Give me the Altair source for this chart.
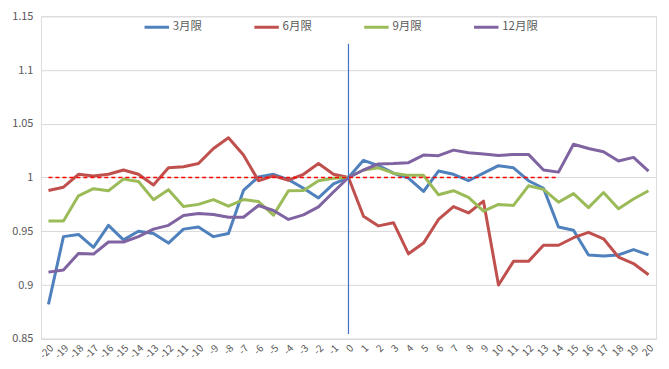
import altair as alt
import pandas as pd

cats = list(range(-20, 21))

s3 = [0.882, 0.945, 0.947, 0.935, 0.9555, 0.942, 0.950, 0.948, 0.939, 0.952,
      0.954, 0.945, 0.948, 0.988, 1.0006, 1.003, 0.998, 0.990, 0.981, 0.994,
      1.0,
      1.016, 1.011, 1.004, 0.9994, 0.987, 1.006, 1.003, 0.997, 1.004, 1.011,
      1.009, 0.997, 0.990, 0.954, 0.951, 0.928, 0.927, 0.928, 0.933, 0.928]
s6 = [0.988, 0.991, 1.003, 1.0015, 1.003, 1.007, 1.003, 0.993, 1.009, 1.010,
      1.013, 1.027, 1.037, 1.021, 0.997, 1.0015, 0.9975, 1.003, 1.013, 1.003,
      1.0,
      0.964, 0.955, 0.958, 0.929, 0.939, 0.961, 0.973, 0.967, 0.978, 0.900,
      0.922, 0.922, 0.937, 0.937, 0.944, 0.949, 0.943, 0.926, 0.920, 0.9095]
s9 = [0.9595, 0.9595, 0.983, 0.9896, 0.9877, 0.9985, 0.9963, 0.9794, 0.9887, 0.973,
      0.975, 0.9795, 0.9733, 0.9795, 0.9776, 0.965, 0.9877, 0.988, 0.997, 0.9994,
      1.0,
      1.007, 1.009, 1.004, 1.002, 1.002, 0.984, 0.9877, 0.9816, 0.9687, 0.975,
      0.974, 0.9923, 0.989, 0.977, 0.985, 0.972, 0.986, 0.971, 0.980, 0.9877]
s12 = [0.912, 0.914, 0.9294, 0.9288, 0.940, 0.940, 0.945, 0.952, 0.9555, 0.9647,
       0.9666, 0.9656, 0.963, 0.963, 0.974, 0.9693, 0.961, 0.9653, 0.9727, 0.9865,
       1.0,
       1.007, 1.0126, 1.013, 1.0138, 1.0209, 1.0203, 1.0255, 1.023, 1.0218, 1.0205,
       1.0215, 1.0215, 1.007, 1.005, 1.031, 1.027, 1.024, 1.0153, 1.0187, 1.006]

names = ["3月限", "6月限", "9月限", "12月限"]
colors = ["#4F81BD", "#C0504D", "#9BBB59", "#8064A2"]

ref_cats = list(range(-20, 15))
ref_vals = [1.0] * len(ref_cats)

vline_x = [0]
vline_top = [1.1245]
vline_bottom = [0.8545]

rows = []
for si, (nm, vals) in enumerate(zip(names, [s3, s6, s9, s12])):
    for c, v in zip(cats, vals):
        rows.append({"x": c, "value": v, "series": nm, "ord": si})
df = pd.DataFrame(rows)
ref_df = pd.DataFrame({"x": ref_cats, "value": ref_vals})
vl_df = pd.DataFrame({"x": vline_x, "top": vline_top, "bottom": vline_bottom})

FONT = "Noto Sans CJK JP"
GRAY = "#595959"
GRID = "#D9D9D9"

xenc = alt.X("x:O", scale=alt.Scale(domain=cats),
             axis=alt.Axis(title=None, labelAngle=-45, labelFontSize=10,
                           labelColor=GRAY, labelFont=FONT, ticks=False,
                           domainColor=GRID, grid=False, labelPadding=4))
yscale = alt.Scale(domain=[0.85, 1.15], nice=False, zero=False)

lines = alt.Chart(df).mark_line(strokeWidth=3, strokeJoin="round").encode(
    x=xenc,
    y=alt.Y("value:Q", scale=yscale,
            axis=alt.Axis(title=None, values=[0.85, 0.9, 0.95, 1.0, 1.05, 1.1, 1.15],
                          format="~g", labelFontSize=11, labelColor=GRAY,
                          labelFont=FONT, ticks=False, domain=False,
                          gridColor=GRID, labelPadding=8)),
    color=alt.Color("series:N", scale=alt.Scale(domain=names, range=colors),
                    legend=alt.Legend(title=None, orient="none", direction="horizontal",
                                      legendX=102, legendY=-3, symbolType="stroke",
                                      symbolSize=600, symbolStrokeWidth=3,
                                      labelFontSize=11.5, labelColor=GRAY,
                                      labelFont=FONT, labelOffset=2,
                                      columnPadding=45, padding=0)),
    order=alt.Order("ord:Q"),
)

ref = alt.Chart(ref_df).mark_line(color="#FF0000", strokeWidth=1.5,
                                  strokeDash=[4, 3]).encode(
    x=alt.X("x:O", scale=alt.Scale(domain=cats)),
    y=alt.Y("value:Q", scale=yscale),
)

vline = alt.Chart(vl_df).mark_rule(color="#4472C4", strokeWidth=1.2).encode(
    x=alt.X("x:O", scale=alt.Scale(domain=cats)),
    y=alt.Y("top:Q", scale=yscale),
    y2="bottom:Q",
)

chart = alt.layer(lines, ref, vline).properties(
    width=616, height=323,
    autosize=alt.AutoSizeParams(type="none"),
    padding={"left": 33, "top": 8, "right": 5, "bottom": 25},
).configure_view(stroke=None).configure(background="white")

chart.save("out.html", embed_options={"renderer": "svg", "actions": False})
